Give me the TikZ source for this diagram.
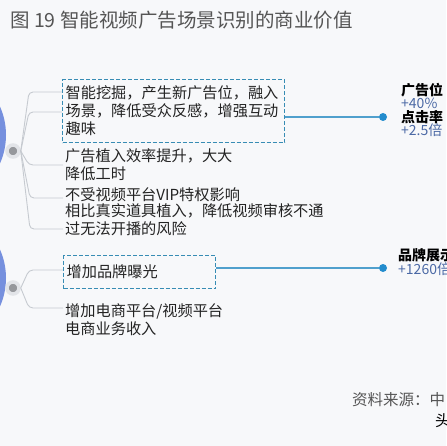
\documentclass[tikz,border=0pt]{standalone}
\usepackage{fontspec}
\setmainfont{Noto Sans CJK SC}
\usetikzlibrary{positioning}
\definecolor{mapBg}{RGB}{247,248,250}
\definecolor{mapBlue}{RGB}{118,144,222}
\definecolor{mapGrey}{RGB}{150,152,156}
\definecolor{mapHalo}{RGB}{226,228,232}
\definecolor{mapLine}{RGB}{198,202,208}
\definecolor{mapDash}{RGB}{55,140,180}
\definecolor{mapLink}{RGB}{80,160,205}
\definecolor{mapDot}{RGB}{35,140,205}
\definecolor{mapNum}{RGB}{75,105,165}
\definecolor{mapText}{RGB}{35,35,35}
\definecolor{mapTitle}{RGB}{85,85,85}

\begin{document}
\begin{tikzpicture}[x=1pt, y=-1pt,
    item/.style={anchor=north west, inner sep=2pt, align=left, text=mapText,
                 font=\fontsize{15.2}{18}\selectfont},
    dbox/.style={item, draw=mapDash, dashed, dash pattern=on 4pt off 2pt,
                 line width=1.2pt, inner xsep=3pt},
    root/.style={circle, fill=mapBlue, minimum size=140pt, inner sep=0pt},
    knob/.style={circle, fill=mapGrey, draw=mapHalo, line width=3.5pt,
                 minimum size=12pt, inner sep=0pt},
    tip/.style={circle, fill=mapDot, minimum size=8pt, inner sep=0pt},
    gain/.style={anchor=north west, inner sep=0pt, align=left,
                 font=\fontsize{14}{13.3}\selectfont},
    branch/.style={mapLine, line width=0.9pt, rounded corners=4pt},
    link/.style={mapLink, line width=1.3pt}
  ]
  \useasboundingbox (0,0) rectangle (446,446);
  \fill[mapBg] (0,0) rectangle (446,446);
  \clip (0,0) rectangle (446,446);

  % Title
  \node[anchor=west, inner sep=0pt, text=mapTitle, font=\fontsize{19.5}{20}\selectfont]
    (title) at (10,20) {图 19 智能视频广告场景识别的商业价值};

  % Roots and knobs
  \node[root] (c1) at (-64,135) {};
  \node[root] (c2) at (-64,278) {};
  \node[knob] (d1) at (13,151) {};
  \node[knob] (d2) at (13,288) {};

  % Items
  \node[dbox, text width=216pt, minimum height=63pt] (b1) at (62,79)
    {智能挖掘，产生新广告位，融入\\场景，降低受众反感，增强互动\\趣味};
  \node[item] (i2) at (63,146) {广告植入效率提升，大大\\降低工时};
  \node[item] (i3) at (63,185) {不受视频平台VIP特权影响};
  \node[item] (i4) at (63,201) {相比真实道具植入，降低视频审核不通\\过无法开播的风险};
  \node[dbox, text width=146pt, minimum height=33pt] (b2) at (63,255) {增加品牌曝光};
  \node[item] (i5) at (63,301) {增加电商平台/视频平台\\电商业务收入};

  % Branches
  \draw[branch] (d1.east) -- (29,92) -- (b1.west |- 0,92);
  \draw[branch] (d1.east) -- (29,112) -- (b1.west |- 0,112);
  \draw[branch] (d1.east) -- (29,165) -- (i2.west |- 0,165);
  \draw[branch] (d1.east) -- (30,198) -- (i3.west |- 0,198);
  \draw[branch] (d1.east) -- (30,229) -- (i4.west |- 0,229);
  \draw[branch] (d2.east) -- (29,270) -- (b2.west |- 0,270);
  \draw[branch] (d2.east) -- (29,308) -- (i5.west |- 0,308);

  % Gains
  \node[tip] (d3) at (383,117) {};
  \node[tip] (d4) at (383,268) {};
  \draw[link] (b1.east |- d3) -- (d3);
  \draw[link] (b2.east |- d4) -- (d4);
  \node[gain] (g1) at (401,83)
    {\textbf{广告位}\\ \textcolor{mapNum}{+40\%}\\ \textbf{点击率}\\ \textcolor{mapNum}{+2.5倍}};
  \node[gain] (g2) at (398,248)
    {\textbf{品牌展示}\\ \textcolor{mapNum}{+1260倍}};

  % Source
  \node[anchor=west, inner sep=0pt, text=mapTitle, font=\fontsize{15.5}{16}\selectfont]
    (src) at (352,400) {资料来源：中};
  \node[anchor=west, inner sep=0pt, text=black, font=\fontsize{15.5}{16}\selectfont]
    (src2) at (435,421) {头};
\end{tikzpicture}
\end{document}
